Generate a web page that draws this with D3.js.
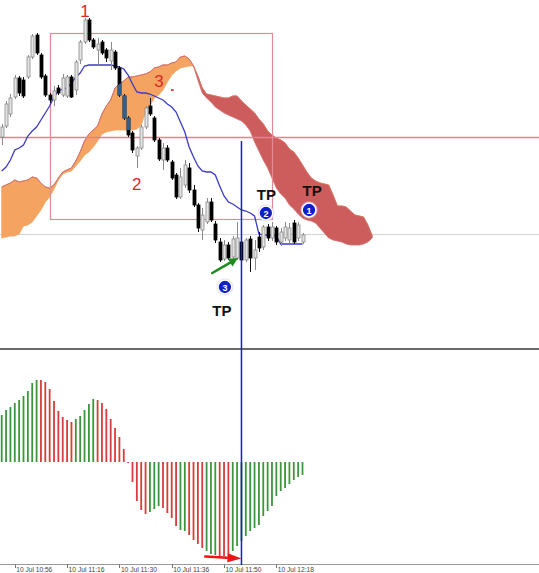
<!DOCTYPE html>
<html><head><meta charset="utf-8">
<script src="https://cdn.jsdelivr.net/npm/d3@7"></script>
<style>html,body{margin:0;padding:0;background:#fff;overflow:hidden}</style>
</head><body><svg id="c" width="539" height="573"></svg>
<script>
// ---------- DATA ----------
const opens  = [1.2863,1.2874,1.2886,1.2903,1.2922,1.2920,1.2923,1.2943,1.2965,1.2945,1.2924,1.2905,1.2900,1.2912,1.2905,1.2904,1.2923,1.2910,1.2940,1.2958,1.2980,1.2960,1.2950,1.2958,1.2950,1.2939,1.2948,1.2932,1.2904,1.2882,1.2867,1.2844,1.2852,1.2873,1.2894,1.2882,1.2860,1.2840,1.2852,1.2838,1.2825,1.2803,1.2815,1.2832,1.2810,1.2795,1.2770,1.2778,1.2798,1.2776,1.2758,1.2741,1.2755,1.2743,1.2742,1.2758,1.2740,1.2761,1.2742,1.2763,1.2753,1.2773,1.2762,1.2772,1.2758,1.2762,1.2760,1.2777,1.2762,1.2758];
const highs  = [1.2876,1.2899,1.2906,1.2925,1.2924,1.2923,1.2945,1.2966,1.2967,1.2947,1.2926,1.2907,1.2914,1.2915,1.2926,1.2925,1.2925,1.2940,1.2960,1.2982,1.2982,1.2962,1.2962,1.2960,1.2952,1.2958,1.2950,1.2934,1.2906,1.2884,1.2869,1.2854,1.2875,1.2894,1.2902,1.2884,1.2862,1.2857,1.2855,1.2840,1.2827,1.2832,1.2840,1.2837,1.2815,1.2797,1.2792,1.2802,1.2802,1.2779,1.2762,1.2760,1.2758,1.2764,1.2778,1.2760,1.2762,1.2764,1.2760,1.2768,1.2775,1.2776,1.2778,1.2774,1.2772,1.2778,1.2777,1.2780,1.2778,1.2767];
const lows   = [1.2855,1.2872,1.2883,1.2901,1.2904,1.2902,1.2921,1.2941,1.2945,1.2921,1.2903,1.2897,1.2894,1.2905,1.2903,1.2902,1.2902,1.2905,1.2936,1.2956,1.2958,1.2951,1.2935,1.2945,1.2938,1.2930,1.2930,1.2903,1.2880,1.2863,1.2847,1.2832,1.2850,1.2871,1.2884,1.2858,1.2839,1.2830,1.2838,1.2820,1.2801,1.2801,1.2812,1.2807,1.2793,1.2768,1.2760,1.2776,1.2778,1.2757,1.2738,1.2739,1.2740,1.2741,1.2740,1.2738,1.2738,1.2728,1.2730,1.2748,1.2750,1.2759,1.2759,1.2755,1.2754,1.2759,1.2756,1.2756,1.2759,1.2756];
const closes = [1.2873,1.2896,1.2902,1.2922,1.2907,1.2904,1.2943,1.2964,1.2947,1.2923,1.2905,1.2900,1.2909,1.2907,1.2922,1.2923,1.2903,1.2938,1.2958,1.2980,1.2960,1.2953,1.2956,1.2947,1.2942,1.2950,1.2932,1.2905,1.2882,1.2865,1.2850,1.2852,1.2873,1.2892,1.2886,1.2860,1.2841,1.2852,1.2840,1.2822,1.2803,1.2823,1.2835,1.2810,1.2795,1.2772,1.2785,1.2798,1.2780,1.2760,1.2740,1.2755,1.2742,1.2761,1.2762,1.2740,1.2760,1.2742,1.2750,1.2752,1.2773,1.2762,1.2773,1.2758,1.2768,1.2773,1.2772,1.2758,1.2775,1.2765];

const kijun = [1.2829,1.2833,1.2840,1.2850,1.2852,1.2855,1.2864,1.2869,1.2873,1.2880,1.2887,1.2894,1.2903,1.2909,1.2911,1.2912,1.2917,1.2923,1.2927,1.2934,1.2935,1.2935,1.2935,1.2935,1.2935,1.2935,1.2934,1.2933,1.2931,1.2925,1.2916,1.2908,1.2907,1.2907,1.2906,1.2904,1.2902,1.2900,1.2896,1.2893,1.2888,1.2878,1.2868,1.2853,1.2843,1.2834,1.2829,1.2828,1.2828,1.2825,1.2814,1.2804,1.2798,1.2796,1.2793,1.2790,1.2789,1.2787,1.2784,1.2766,1.2765,1.2765,1.2765,1.2764,1.2756,1.2756,1.2756,1.2756,1.2756,1.2756];

// Senkou spans (shifted forward, 86 bars)
const spanA = [1.2813,1.2815,1.2817,1.2820,1.2818,1.2819,1.2820,1.2823,1.2822,1.2817,1.2813,1.2812,1.2815,1.2822,1.2828,1.2830,1.2832,1.2839,1.2848,1.2859,1.2866,1.2870,1.2874,1.2886,1.2894,1.2900,1.2912,1.2916,1.2919,1.2923,1.2923,1.2924,1.2925,1.2926,1.2928,1.2932,1.2933,1.2935,1.2935,1.2937,1.2938,1.2943,1.2944,1.2941,1.2934,
  1.2920,1.2907,1.2902,1.2898,1.2893,1.2890,1.2887,1.2885,1.2883,1.2881,1.2879,1.2875,1.2869,1.2858,1.2849,1.2840,1.2832,1.2822,1.2812,1.2806,1.2802,1.2795,1.2791,1.2786,1.2782,1.2780,1.2779,1.2777,1.2772,1.2767,1.2762,1.2760,1.2759,1.2758,1.2756,1.2755,1.2755,1.2755,1.2756,1.2758,1.2762];
const spanB = [1.2762,1.2763,1.2764,1.2764,1.2766,1.2774,1.2775,1.2778,1.2784,1.2790,1.2798,1.2803,1.2811,1.2820,1.2826,1.2828,1.2829,1.2834,1.2839,1.2845,1.2848,1.2853,1.2859,1.2866,1.2868,1.2869,1.2870,1.2870,1.2870,1.2870,1.2870,1.2871,1.2875,1.2888,1.2894,1.2902,1.2905,1.2910,1.2918,1.2925,1.2929,1.2932,1.2933,1.2934,1.2934,
  1.2924,1.2912,1.2906,1.2905,1.2904,1.2903,1.2902,1.2902,1.2904,1.2904,1.2899,1.2895,1.2891,1.2887,1.2881,1.2876,1.2869,1.2865,1.2862,1.2860,1.2857,1.2851,1.2848,1.2842,1.2835,1.2828,1.2822,1.2819,1.2817,1.2816,1.2815,1.2805,1.2794,1.2794,1.2793,1.2789,1.2785,1.2784,1.2783,1.2775,1.2764];

const histValues = [0.00047,0.00052,0.00055,0.00059,0.00062,0.00066,0.00071,0.00079,0.00082,0.00082,0.00080,0.00073,0.00061,0.00051,0.00045,0.00042,0.00040,0.00043,0.00046,0.00052,0.00058,0.00063,0.00062,0.00059,0.00053,0.00043,0.00034,0.00025,0.00013,-0.00001,-0.00020,-0.00039,-0.00048,-0.00052,-0.00050,-0.00047,-0.00044,-0.00046,-0.00051,-0.00056,-0.00064,-0.00068,-0.00069,-0.00073,-0.00078,-0.00082,-0.00086,-0.00089,-0.00092,-0.00093,-0.00094,-0.00094,-0.00093,-0.00089,-0.00084,-0.00079,-0.00074,-0.00069,-0.00066,-0.00063,-0.00054,-0.00049,-0.00044,-0.00034,-0.00029,-0.00026,-0.00022,-0.00018,-0.00015,-0.00013];
const histColors = ["up","up","up","up","up","up","up","up","up","down","down","down","down","down","down","down","down","up","up","up","up","up","down","down","down","down","down","down","down","down","down","down","down","down","up","up","up","down","down","down","down","up","up","down","down","down","down","up","up","up","down","down","down","up","up","up","up","up","up","up","up","up","up","up","up","up","up","up","up","up"];

const tickBars = [3,15,27,39,51,63];
const tickLabels = ["10 Jul 10:56","10 Jul 11:16","10 Jul 11:30","10 Jul 11:36","10 Jul 11:50","10 Jul 12:18"];

const waveLabels = [{t:"1",bar:19.1,price:1.2989},{t:"2",bar:31.0,price:1.2816},{t:"3",bar:36.1,price:1.2919}];
const tpLabels = [{bar:71.2,price:1.2810},{bar:60.7,price:1.2806},{bar:50.5,price:1.2690}];
const markers = [{n:"1",bar:70.5,price:1.2790},{n:"2",bar:60.6,price:1.2787},{n:"3",bar:51.2,price:1.2713}];
const boxBars = [11.1, 62.0], boxPrices = [1.2967, 1.2781];
const levelLine = 1.2863, priceLine = 1.2766;
const signalBar = 55, signalTop = 1.2859;
const greenArrow = {from:[48.3,1.2727], to:[54.2,1.2742]};
const redArrow = {from:[46.7,-0.000945], to:[55.0,-0.000965]};

// ---------- SCALES ----------
const W = 539;
const svg = d3.select("#c");
const x = d3.scaleLinear().domain([0, 69]).range([1.7, 302.5]);
const y = d3.scaleLinear().domain([1.2651, 1.3000]).range([349, 0]);
const yh = d3.scaleLinear().domain([-0.00103, 0.00112]).range([565, 350]);

// ---------- TOP PANEL ----------
const topG = svg.append("g");
topG.append("line").attr("x1",0).attr("x2",W).attr("y1",Math.round(y(priceLine))+0.5).attr("y2",Math.round(y(priceLine))+0.5)
  .attr("stroke","#d4d4d4").attr("stroke-width",1);

const cloud = spanA.map((a,i)=>({i, a, b: spanB[i]}));
const orangeArea = d3.area().x(d=>x(d.i)).y0(d=>y(d.b)).y1(d=>y(Math.max(d.a,d.b)));
const redArea = d3.area().x(d=>x(d.i)).y0(d=>y(d.a)).y1(d=>y(Math.max(d.a,d.b)));
const defs = svg.append("defs");
defs.append("clipPath").attr("id","oclip").append("path").attr("d", orangeArea(cloud));
topG.append("path").attr("d", orangeArea(cloud)).attr("fill","#f4a460").attr("stroke","#f4a460").attr("stroke-width",0.8);
topG.append("path").attr("d", redArea(cloud)).attr("fill","#cd5c5c").attr("stroke","#d27070").attr("stroke-width",0.8);

// level line + box
const ly = Math.round(y(levelLine))+0.5;
topG.append("line").attr("x1",0).attr("x2",W).attr("y1",ly).attr("y2",ly)
  .attr("stroke","#e5808f").attr("stroke-width",1.5);
topG.append("rect").attr("x",Math.round(x(boxBars[0]))+0.5).attr("y",Math.round(y(boxPrices[0]))+0.5)
  .attr("width",Math.round(x(boxBars[1])-x(boxBars[0]))).attr("height",Math.round(y(boxPrices[1])-y(boxPrices[0])))
  .attr("fill","none").attr("stroke","#e38a99").attr("stroke-width",1.2);

// kijun
topG.append("path").datum(kijun).attr("fill","none").attr("stroke","#3b3bc4").attr("stroke-width",1.3)
  .attr("d", d3.line().x((d,i)=>x(i)).y(d=>y(d)));

// candles
const candles = opens.map((o,i)=>({i,o,h:highs[i],l:lows[i],c:closes[i]}));
const bw = 3;
const cg = topG.append("g");
cg.selectAll("line.w").data(candles).join("line")
  .attr("x1",d=>Math.round(x(d.i))+0.5).attr("x2",d=>Math.round(x(d.i))+0.5)
  .attr("y1",d=>y(d.h)).attr("y2",d=>y(d.l))
  .attr("stroke",d=>d.c>=d.o?"#8a8a8a":"#111").attr("stroke-width",1);
cg.selectAll("rect.b").data(candles).join("rect")
  .attr("x",d=>Math.round(x(d.i))-1).attr("width",bw)
  .attr("y",d=>y(Math.max(d.o,d.c))).attr("height",d=>Math.max(1,Math.abs(y(d.o)-y(d.c))))
  .attr("fill",d=>d.c>=d.o?"#e4e4e4":"#000")
  .attr("stroke",d=>d.c>=d.o?"#8a8a8a":"#000").attr("stroke-width",0.8);
// bearish bodies within the orange cloud show bluish
topG.append("g").attr("clip-path","url(#oclip)").selectAll("rect").data(candles.filter(d=>d.c<d.o)).join("rect")
  .attr("x",d=>Math.round(x(d.i))-1.4).attr("width",bw+0.8)
  .attr("y",d=>y(d.o)-0.4).attr("height",d=>Math.abs(y(d.o)-y(d.c))+0.8)
  .attr("fill","#2f5f8c");

// ---------- PANEL SEPARATOR ----------
svg.append("rect").attr("x",0).attr("y",348).attr("width",W).attr("height",2).attr("fill","#6b6b6b");

// ---------- HISTOGRAM ----------
const hg = svg.append("g");
hg.selectAll("rect").data(histValues).join("rect")
  .attr("x",(d,i)=>x(i)-0.9).attr("width",1.8)
  .attr("y",d=>Math.min(yh(0),yh(d))).attr("height",d=>Math.max(1,Math.abs(yh(d)-yh(0))))
  .attr("fill",(d,i)=>histColors[i]==="up"?"#3d963d":"#d83c3c");

// axis
svg.append("line").attr("x1",0).attr("x2",W).attr("y1",564.5).attr("y2",564.5).attr("stroke","#9a9a9a");
const ax = svg.append("g");
ax.selectAll("line").data(tickBars).join("line")
  .attr("x1",d=>Math.round(x(d))+0.5).attr("x2",d=>Math.round(x(d))+0.5).attr("y1",564).attr("y2",568)
  .attr("stroke","#777");
ax.selectAll("text").data(tickBars).join("text")
  .attr("x",d=>x(d)+1.5).attr("y",572).text((d,i)=>tickLabels[i])
  .attr("font-family","Liberation Sans, Arial, sans-serif").attr("font-size",6.5).attr("fill","#444")
  .attr("textLength",36).attr("lengthAdjust","spacingAndGlyphs");

// ---------- SIGNAL LINE & ARROWS ----------
svg.append("line").attr("x1",x(signalBar)).attr("x2",x(signalBar)).attr("y1",y(signalTop)).attr("y2",565)
  .attr("stroke","#1a1ae6").attr("stroke-width",1.5);

function arrow(g, x1, y1, x2, y2, color, sw, hl, hw){
  const a = Math.atan2(y2-y1, x2-x1);
  const bx = x2 - hl*Math.cos(a), by = y2 - hl*Math.sin(a);
  g.append("line").attr("x1",x1).attr("y1",y1).attr("x2",bx).attr("y2",by)
    .attr("stroke",color).attr("stroke-width",sw).attr("stroke-linecap","round");
  const px = -Math.sin(a)*hw/2, py = Math.cos(a)*hw/2;
  g.append("path").attr("d",`M${x2},${y2}L${bx+px},${by+py}L${bx-px},${by-py}Z`).attr("fill",color);
}
arrow(svg, x(greenArrow.from[0]), y(greenArrow.from[1]), x(greenArrow.to[0]), y(greenArrow.to[1]), "#1f8a1f", 2.6, 9, 9);
arrow(svg, x(redArrow.from[0]), yh(redArrow.from[1]), x(redArrow.to[0]), yh(redArrow.to[1]), "#ee1414", 2.6, 14, 9);

// ---------- ANNOTATIONS ----------
svg.selectAll("text.wave").data(waveLabels).join("text")
  .attr("x",d=>x(d.bar)).attr("y",d=>y(d.price)).attr("text-anchor","middle").attr("dominant-baseline","central")
  .attr("font-family","Liberation Sans, Arial, sans-serif").attr("font-size",17).attr("fill","#dc2828").text(d=>d.t);
svg.append("rect").attr("x",x(36.1)+12).attr("y",y(1.2911)).attr("width",2.5).attr("height",2).attr("fill","#e04040");

svg.selectAll("text.tp").data(tpLabels).join("text")
  .attr("x",d=>x(d.bar)).attr("y",d=>y(d.price)).attr("text-anchor","middle").attr("dominant-baseline","central")
  .attr("font-family","Liberation Sans, Arial, sans-serif").attr("font-size",15).attr("font-weight","bold")
  .attr("fill","#111").text("TP");

const mg = svg.selectAll("g.mk").data(markers).join("g")
  .attr("transform",d=>`translate(${x(d.bar)},${y(d.price)})`);
mg.append("circle").attr("r",8.5).attr("fill","#d8d8e8").attr("opacity",0.7);
mg.append("circle").attr("r",6.8).attr("fill","#1020c8").attr("stroke","#fff").attr("stroke-width",1.3);
mg.append("text").attr("text-anchor","middle").attr("dominant-baseline","central").attr("y",0.5)
  .attr("font-family","Liberation Sans, Arial, sans-serif").attr("font-size",9).attr("font-weight","bold")
  .attr("fill","#fff").text(d=>d.n);
</script></body></html>
